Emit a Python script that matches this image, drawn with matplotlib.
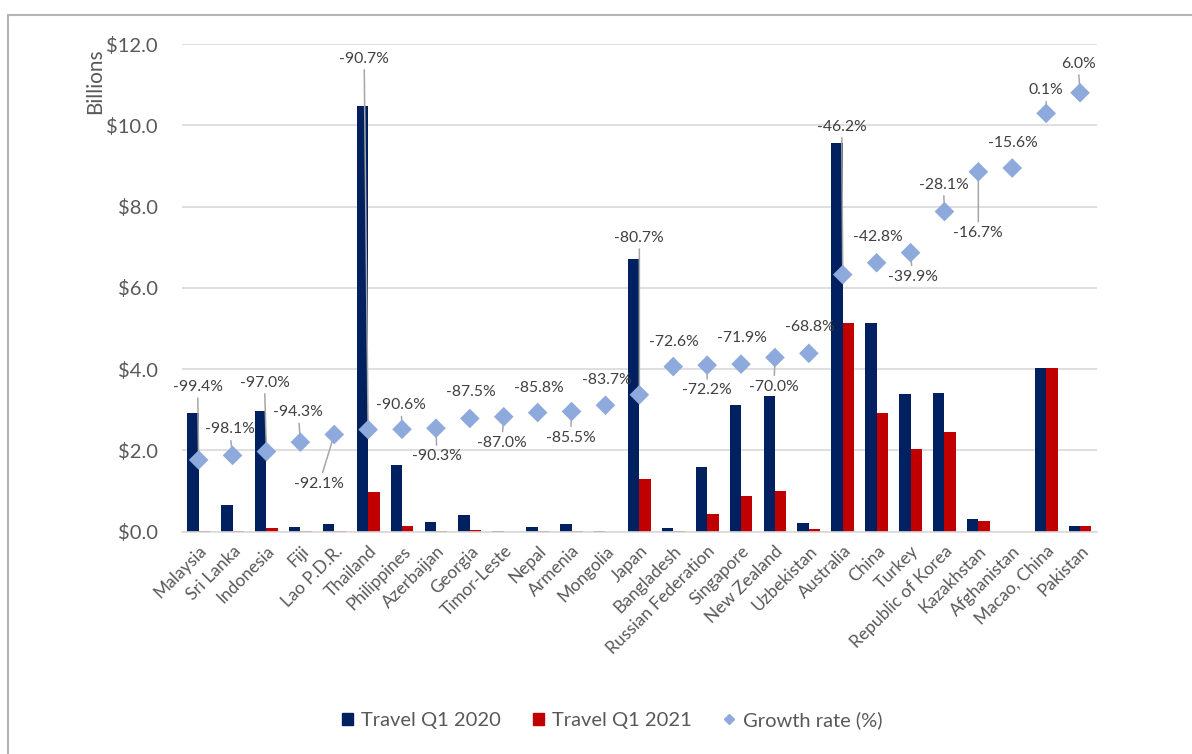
import numpy as np
import matplotlib.pyplot as plt
from matplotlib.patches import Rectangle
from matplotlib.lines import Line2D

plt.rcParams['font.family'] = ['Lato', 'DejaVu Sans']

# Travel receipts by economy, billions of US dollars
countries = ['Malaysia', 'Sri Lanka', 'Indonesia', 'Fiji', 'Lao P.D.R.', 'Thailand',
             'Philippines', 'Azerbaijan', 'Georgia', 'Timor-Leste', 'Nepal', 'Armenia',
             'Mongolia', 'Japan', 'Bangladesh', 'Russian Federation', 'Singapore',
             'New Zealand', 'Uzbekistan', 'Australia', 'China', 'Turkey',
             'Republic of Korea', 'Kazakhstan', 'Afghanistan', 'Macao, China', 'Pakistan']
travel_2020 = [2.91, 0.66, 2.98, 0.12, 0.19, 10.48, 1.63, 0.25, 0.41, 0.01, 0.12, 0.20,
               0.01, 6.70, 0.08, 1.58, 3.11, 3.34, 0.22, 9.56, 5.13, 3.40,
               3.42, 0.31, 0.004, 4.02, 0.14]
travel_2021 = [0.017, 0.013, 0.09, 0.007, 0.015, 0.97, 0.15, 0.024, 0.05, 0.001, 0.017, 0.029,
               0.002, 1.29, 0.022, 0.44, 0.87, 1.00, 0.069, 5.14, 2.93, 2.04,
               2.46, 0.26, 0.0034, 4.02, 0.15]
growth = [-99.4, -98.1, -97.0, -94.3, -92.1, -90.7, -90.6, -90.3, -87.5, -87.0, -85.8, -85.5,
          -83.7, -80.7, -72.6, -72.2, -71.9, -70.0, -68.8, -46.2, -42.8, -39.9,
          -28.1, -16.7, -15.6, 0.1, 6.0]

# label placement (pixel offsets from the marker) and whether a leader line is drawn
label_dx = [-1, -3, -2, -2, -15, -4, -1, 1, 1, -2, 1, -1, 1, 0, 1, 0, 1, -1, 1, -1, 1, 2, -1, 0, 1, 0, -2]
label_dy = [73, 26, 69, 30, -49, 371, 24, -28, 26, -26, 25, -26, 25, 157, 25, -25, 26, -29, 26,
            148, 26, -24, 27, -61, 25, 23, 29]
leader = [True, True, True, True, True, True, True, True, False, True, False, True, False, True,
          False, True, False, True, False, True, False, True, True, True, False, True, True]

navy = '#002060'
red = '#C00000'
diamond = '#8EA9DB'
grey_txt = '#595959'

fig = plt.figure(figsize=(11.92, 7.54), dpi=100)
fig.patches.append(Rectangle((8 / 1192, -0.05), 1.1, 1 - 15 / 754 + 0.05,
                             transform=fig.transFigure, fill=False,
                             edgecolor='#b4b4b4', linewidth=1.5))

ax = fig.add_axes([181.7 / 1192, 222.3 / 754, 915.3 / 1192, 487.7 / 754])
x = np.arange(len(countries))
w = 0.335
ax.bar(x - w / 2, travel_2020, w, color=navy, label='Travel Q1 2020', zorder=2)
ax.bar(x + w / 2, travel_2021, w, color=red, label='Travel Q1 2021', zorder=2)

ax.set_xlim(-0.5, len(countries) - 0.5)
ax.set_ylim(0, 12)
ax.set_yticks(np.arange(0, 12.1, 2))
ax.set_yticklabels(['${:.1f}'.format(v) for v in np.arange(0, 12.1, 2)],
                   fontsize=14.5, color=grey_txt)
ax.set_xticks(x)
ax.set_xticklabels(countries, rotation=45, ha='right', rotation_mode='anchor',
                   fontsize=12.5, color=grey_txt)
ax.tick_params(length=0)
ax.tick_params(axis='y', pad=17)
ax.tick_params(axis='x', pad=8)
ax.grid(axis='y', color='#d9d9d9', linewidth=1.2, zorder=0)
ax.set_axisbelow(True)
for s in ['top', 'right', 'left']:
    ax.spines[s].set_visible(False)
ax.spines['bottom'].set_color('#d9d9d9')
ax.spines['bottom'].set_linewidth(1.2)

fig.text(95 / 1192, 1 - 81 / 754, 'Billions', rotation=90, ha='center', va='center',
         fontsize=15, color=grey_txt)

# growth rate on a hidden secondary scale
ax2 = ax.twinx()
ax2.set_ylim(-120, 20)
ax2.axis('off')
ax2.scatter(x, growth, marker='D', s=100, color=diamond, edgecolors='none', zorder=5,
            label='Growth rate (%)')
for i, g in enumerate(growth):
    props = dict(arrowstyle='-', color='#a6a6a6', lw=1.1, shrinkA=1, shrinkB=0) if leader[i] else None
    ax2.annotate('{:.1f}%'.format(g), (i, g), xytext=(label_dx[i] * 0.72, label_dy[i] * 0.72),
                 textcoords='offset points', ha='center', va='center', fontsize=11.3,
                 color='#404040', arrowprops=props, zorder=4)

handles = [Rectangle((0, 0), 1, 1, color=navy), Rectangle((0, 0), 1, 1, color=red),
           Line2D([], [], marker='D', linestyle='none', color=diamond, markersize=5.5)]
fig.legend(handles, ['Travel Q1 2020', 'Travel Q1 2021', 'Growth rate (%)'],
           loc='center', bbox_to_anchor=(612 / 1192, 1 - 720 / 754), ncol=3,
           frameon=False, fontsize=14.5, handlelength=0.55, handleheight=0.55,
           handletextpad=0.4, columnspacing=1.6, labelcolor=grey_txt)

fig.savefig('out.png', dpi=100)
